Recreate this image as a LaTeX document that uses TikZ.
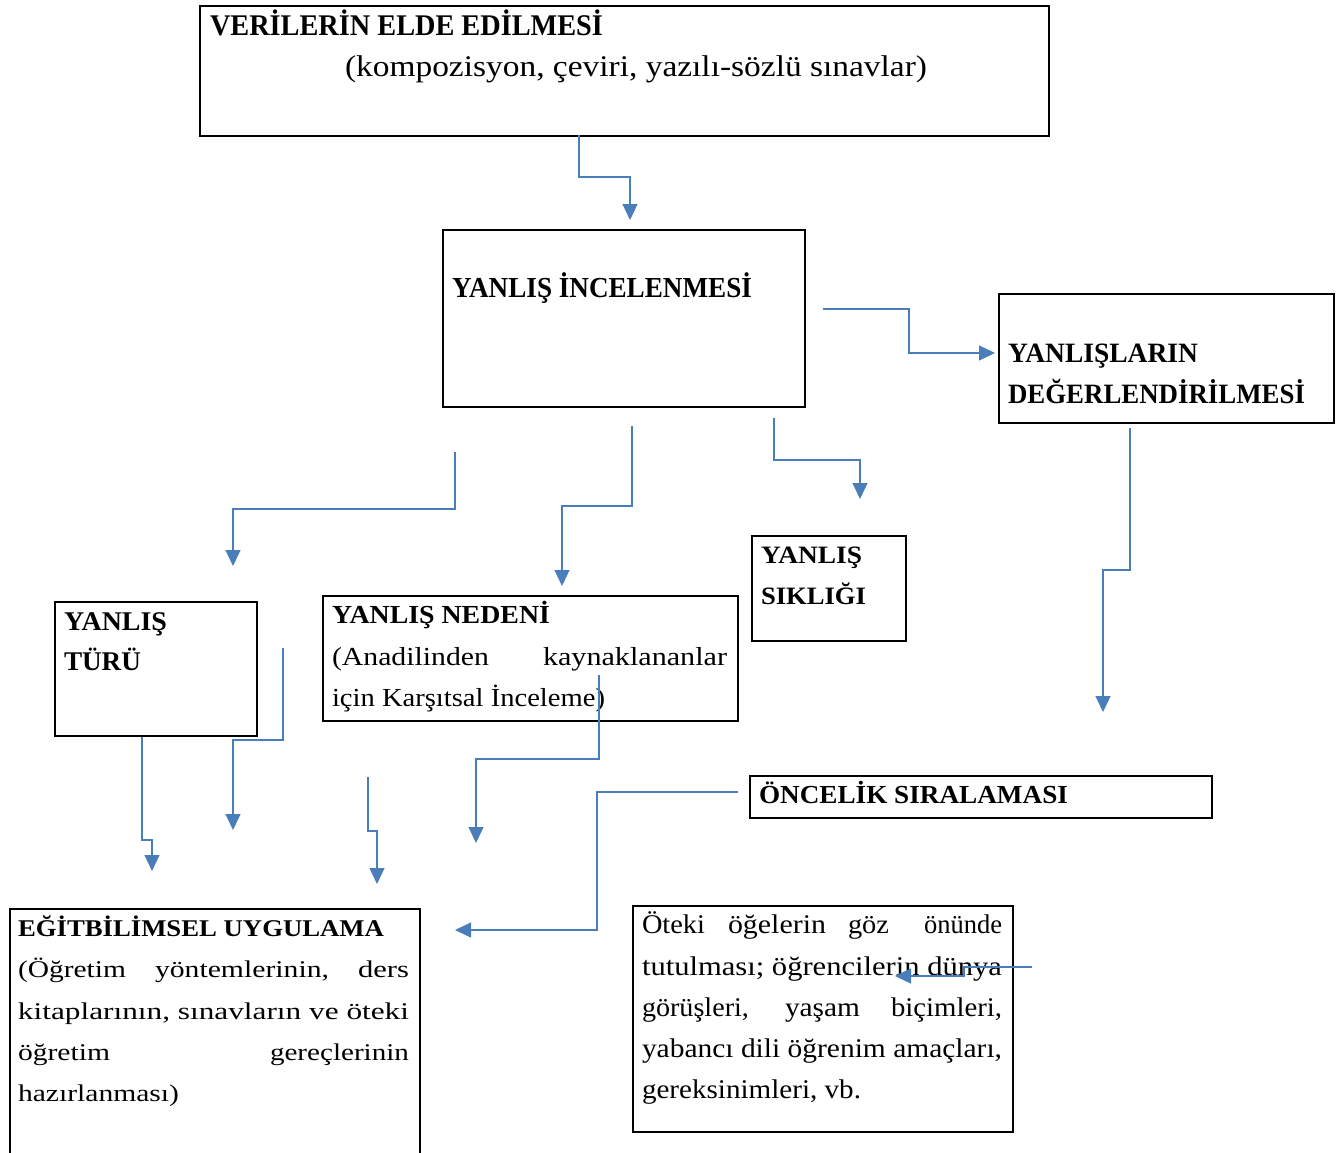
\documentclass[tikz,border=0pt]{standalone}
\usepackage{fontspec}
\setmainfont{Liberation Serif}
\usepackage{graphicx}
\usetikzlibrary{arrows.meta}
\definecolor{connblue}{RGB}{74,126,187}
\newlength\fitlen
\newcommand\fitw[2]{\settowidth\fitlen{#2}\pgfmathsetmacro\fitratio{#1/\fitlen}\scalebox{\fitratio}[1]{#2}}
\begin{document}
\begin{tikzpicture}[x=1pt,y=-1pt,
  box/.style={draw=black, line width=2pt, inner sep=0pt, anchor=north west},
  txt/.style={anchor=base west, inner sep=0pt, outer sep=0pt},
  conn/.style={draw=connblue, line width=1.2pt, -{Triangle[length=16pt,width=15pt]}}]
\useasboundingbox (0,0) rectangle (1344,1153);
% boxes
\node[box, minimum width=849pt, minimum height=130pt] (b1) at (199,5) {};
\node[box, minimum width=362pt, minimum height=177pt] (b2) at (442,229) {};
\node[box, minimum width=335pt, minimum height=129pt] (b3) at (998,293) {};
\node[box, minimum width=202pt, minimum height=134pt] (b4) at (54,601) {};
\node[box, minimum width=415pt, minimum height=125pt] (b5) at (322,595) {};
\node[box, minimum width=154pt, minimum height=105pt] (b6) at (751,535) {};
\node[box, minimum width=462pt, minimum height=42pt] (b7) at (749,775) {};
\node[box, minimum width=410pt, minimum height=270pt] (b8) at (9,908) {};
\node[box, minimum width=380pt, minimum height=226pt] (b9) at (632,905) {};
% texts
\node[txt, font=\fontsize{30}{32}\selectfont\bfseries] (t1a) at (210,36) {\fitw{393}{VERİLERİN ELDE EDİLMESİ}};
\node[txt, font=\fontsize{30}{32}\selectfont] (t1b) at (345,77) {\fitw{582}{(kompozisyon, çeviri, yazılı-sözlü sınavlar)}};
\node[txt, font=\fontsize{29}{32}\selectfont\bfseries] (t2) at (452,297) {\fitw{300}{YANLIŞ İNCELENMESİ}};
\node[txt, font=\fontsize{28}{32}\selectfont\bfseries] (t3a) at (1008,362) {\fitw{190}{YANLIŞLARIN}};
\node[txt, font=\fontsize{28}{32}\selectfont\bfseries] (t3b) at (1008,403) {\fitw{297}{DEĞERLENDİRİLMESİ}};
\node[txt, font=\fontsize{27}{30}\selectfont\bfseries] (t4a) at (64,630) {\fitw{103}{YANLIŞ}};
\node[txt, font=\fontsize{27}{30}\selectfont\bfseries] (t4b) at (64,670) {\fitw{77}{TÜRÜ}};
\node[txt, font=\fontsize{26}{30}\selectfont\bfseries] (t5a) at (332,623) {\fitw{218}{YANLIŞ NEDENİ}};
\node[txt, font=\fontsize{26}{30}\selectfont] (t5b) at (332,665) {\fitw{157}{(Anadilinden}};
\node[txt, font=\fontsize{26}{30}\selectfont] (t5c) at (543,665) {\fitw{184}{kaynaklananlar}};
\node[txt, font=\fontsize{26}{30}\selectfont] (t5d) at (332,706) {\fitw{273}{için Karşıtsal İnceleme)}};
\node[txt, font=\fontsize{25}{30}\selectfont\bfseries] (t6a) at (761,563) {\fitw{101}{YANLIŞ}};
\node[txt, font=\fontsize{25}{30}\selectfont\bfseries] (t6b) at (761,604) {\fitw{105}{SIKLIĞI}};
\node[txt, font=\fontsize{26}{30}\selectfont\bfseries] (t7) at (759,803) {\fitw{309}{ÖNCELİK SIRALAMASI}};
\node[txt, font=\fontsize{24}{30}\selectfont\bfseries] (t8a) at (18,936) {\fitw{366}{EĞİTBİLİMSEL UYGULAMA}};
\node[txt, font=\fontsize{24}{30}\selectfont] (t8b) at (18,977) {\fitw{108}{(Öğretim}};
\node[txt, font=\fontsize{24}{30}\selectfont] (t8c) at (155,977) {\fitw{174}{yöntemlerinin,}};
\node[txt, font=\fontsize{24}{30}\selectfont] (t8d) at (358,977) {\fitw{51}{ders}};
\node[txt, font=\fontsize{24}{30}\selectfont] (t8e) at (18,1019) {\fitw{391}{kitaplarının, sınavların ve öteki}};
\node[txt, font=\fontsize{24}{30}\selectfont] (t8f) at (18,1060) {\fitw{92}{öğretim}};
\node[txt, font=\fontsize{24}{30}\selectfont] (t8g) at (270,1060) {\fitw{139}{gereçlerinin}};
\node[txt, font=\fontsize{24}{30}\selectfont] (t8h) at (18,1101) {\fitw{161}{hazırlanması)}};
\node[txt, font=\fontsize{27}{30}\selectfont] (t9a) at (642,933) {\fitw{63}{Öteki}};
\node[txt, font=\fontsize{27}{30}\selectfont] (t9b) at (728,933) {\fitw{98}{öğelerin}};
\node[txt, font=\fontsize{27}{30}\selectfont] (t9c) at (848,933) {\fitw{41}{göz}};
\node[txt, font=\fontsize{27}{30}\selectfont] (t9d) at (924,933) {\fitw{78}{önünde}};
\node[txt, font=\fontsize{27}{30}\selectfont] (t9e) at (642,975) {\fitw{360}{tutulması; öğrencilerin dünya}};
\node[txt, font=\fontsize{27}{30}\selectfont] (t9f) at (642,1016) {\fitw{107}{görüşleri,}};
\node[txt, font=\fontsize{27}{30}\selectfont] (t9g) at (785,1016) {\fitw{75}{yaşam}};
\node[txt, font=\fontsize{27}{30}\selectfont] (t9h) at (891,1016) {\fitw{111}{biçimleri,}};
\node[txt, font=\fontsize{27}{30}\selectfont] (t9i) at (642,1057) {\fitw{360}{yabancı dili öğrenim amaçları,}};
\node[txt, font=\fontsize{27}{30}\selectfont] (t9j) at (642,1098) {\fitw{219}{gereksinimleri, vb.}};
% connector ends
\coordinate (c1s) at (579,135);  \coordinate (c1e) at (630,220);
\coordinate (c2s) at (823,309);  \coordinate (c2e) at (995,353);
\coordinate (c3s) at (1130,428); \coordinate (c3e) at (1103,712);
\coordinate (c4s) at (455,452);  \coordinate (c4e) at (233,566);
\coordinate (c5s) at (632,426);  \coordinate (c5e) at (562,586);
\coordinate (c6s) at (774,418);  \coordinate (c6e) at (860,499);
\coordinate (c7s) at (142,737);  \coordinate (c7e) at (152,871);
\coordinate (c8s) at (283,648);  \coordinate (c8e) at (233,830);
\coordinate (c9s) at (368,777);  \coordinate (c9e) at (377,884);
\coordinate (c10s) at (599,675); \coordinate (c10e) at (476,843);
\coordinate (c11s) at (738,792); \coordinate (c11e) at (455,930);
\coordinate (c12s) at (1032,967); \coordinate (c12e) at (895,976);
% connectors
\draw[conn] (c1s) |- (630,177) -- (c1e);
\draw[conn] (c2s) -| (909,353) -- (c2e);
\draw[conn] (c3s) |- (1103,570) -- (c3e);
\draw[conn] (c4s) |- (233,509) -- (c4e);
\draw[conn] (c5s) |- (562,506) -- (c5e);
\draw[conn] (c6s) |- (860,460) -- (c6e);
\draw[conn] (c7s) |- (152,840) -- (c7e);
\draw[conn] (c8s) |- (233,740) -- (c8e);
\draw[conn] (c9s) |- (377,831) -- (c9e);
\draw[conn] (c10s) |- (476,759) -- (c10e);
\draw[conn] (c11s) -| (597,930) -- (c11e);
\draw[conn] (c12s) -| (964,976) -- (c12e);
\end{tikzpicture}
\end{document}
